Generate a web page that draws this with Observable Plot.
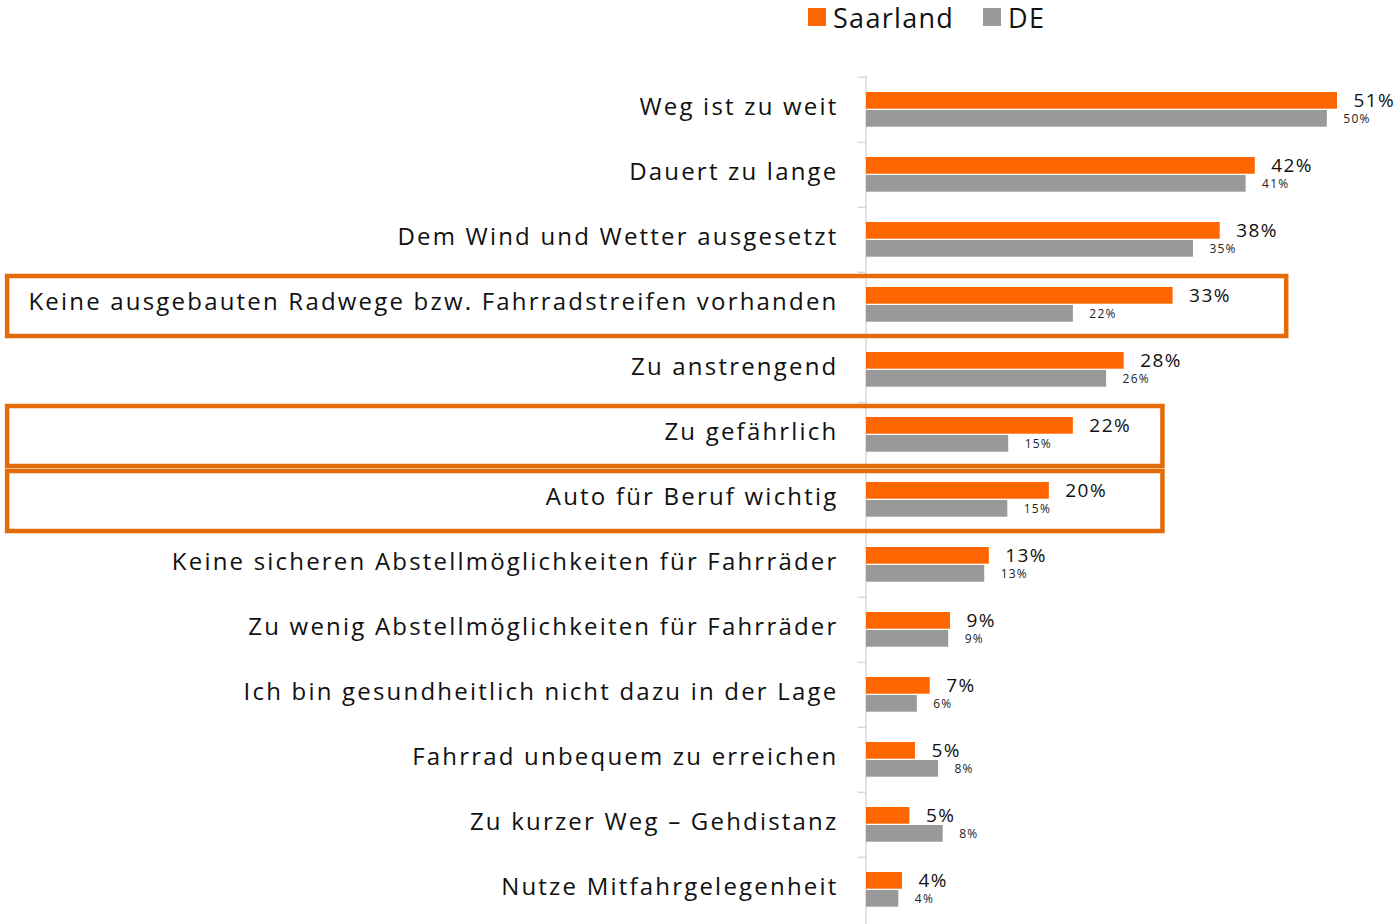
<!DOCTYPE html>
<html>
<head>
<meta charset="utf-8">
<script src="https://cdn.jsdelivr.net/npm/d3@7"></script>
<script src="https://cdn.jsdelivr.net/npm/@observablehq/plot@0.6"></script>
<style>
  body { margin: 0; background: #fff; font-family: "Open Sans", sans-serif; }
  #legend { height: 40px; position: relative; }
  .item { position: absolute; top: -2px; display: flex; align-items: center; height: 38px; font-size: 27px; color: #111; letter-spacing: 1.3px; }
  .sw { width: 18px; height: 18px; margin-right: 7px; }
  #chart g[aria-label="y-axis tick label"] text { letter-spacing: 2.2px; }
</style>
</head>
<body>
<div id="legend">
  <div class="item" style="left:808px"><span class="sw" style="background:#FF6600"></span>Saarland</div>
  <div class="item" style="left:983px"><span class="sw" style="background:#999999"></span>DE</div>
</div>
<div id="chart"></div>
<script>
const categories = [
  "Weg ist zu weit",
  "Dauert zu lange",
  "Dem Wind und Wetter ausgesetzt",
  "Keine ausgebauten Radwege bzw. Fahrradstreifen vorhanden",
  "Zu anstrengend",
  "Zu gefährlich",
  "Auto für Beruf wichtig",
  "Keine sicheren Abstellmöglichkeiten für Fahrräder",
  "Zu wenig Abstellmöglichkeiten für Fahrräder",
  "Ich bin gesundheitlich nicht dazu in der Lage",
  "Fahrrad unbequem zu erreichen",
  "Zu kurzer Weg – Gehdistanz",
  "Nutze Mitfahrgelegenheit"
];
const saarland = [51.0, 42.1, 38.3, 33.2, 27.9, 22.4, 19.8, 13.3, 9.1, 6.9, 5.3, 4.7, 3.9];
const de       = [49.9, 41.1, 35.4, 22.4, 26.0, 15.4, 15.3, 12.8, 8.9, 5.5, 7.8, 8.3, 3.5];
const highlighted = ["Keine ausgebauten Radwege bzw. Fahrradstreifen vorhanden", "Zu gefährlich", "Auto für Beruf wichtig"];
const highlightEnd = [45.5, 32.1, 32.1];
const highlightStart = -93;

const dataS = categories.map((c, i) => ({cat: c, v: saarland[i]}));
const dataD = categories.map((c, i) => ({cat: c, v: de[i]}));
const boxes = highlighted.map((c, i) => ({cat: c, x1: highlightStart, x2: highlightEnd[i]}));

const band = (924 - 75) / categories.length;

const chart = Plot.plot({
  width: 1394,
  height: 884,
  marginTop: 35,
  marginBottom: 0,
  marginLeft: 866,
  marginRight: 57,
  style: {fontFamily: "Open Sans, sans-serif", overflow: "visible"},
  x: {domain: [0, 51], axis: null},
  y: {domain: categories, padding: 0, label: null},
  marks: [
    Plot.axisY({tickSize: 0, tickPadding: 28, fontSize: 24, fill: "#111", dy: -2.5}),
    Plot.ruleX([0], {stroke: "#d9d9d9", strokeWidth: 1.5, dx: -0.5}),
    Plot.ruleY(categories, {y: d => d, x1: -0.9, x2: 0, stroke: "#d9d9d9", strokeWidth: 1.5, dy: -band / 2}),
    Plot.barX(dataS, {y: "cat", x: "v", fill: "#FF6600", insetTop: 15, insetBottom: 33.3}),
    Plot.barX(dataD, {y: "cat", x: "v", fill: "#999999", insetTop: 33, insetBottom: 15.3}),
    Plot.text(dataS, {y: "cat", x: "v", text: d => Math.round(d.v) + "%", textAnchor: "start", dx: 16, dy: -9.5, fontSize: 19, fill: "#111"}),
    Plot.text(dataD, {y: "cat", x: "v", text: d => Math.round(d.v) + "%", textAnchor: "start", dx: 16, dy: 9.5, fontSize: 12, fill: "#222"}),
    Plot.rect(boxes, {y: "cat", x1: "x1", x2: "x2", fill: "none", stroke: "#E36C09", strokeWidth: 4.5, insetTop: 4, insetBottom: 1})
  ]
});
document.getElementById("chart").appendChild(chart);
const textGroups = d3.select(chart).selectAll('g[aria-label="text"]');
textGroups.filter((d, i) => i === 0).style("letter-spacing", "1.4px");
textGroups.filter((d, i) => i === 1).style("letter-spacing", "1.2px");
</script>
</body>
</html>
